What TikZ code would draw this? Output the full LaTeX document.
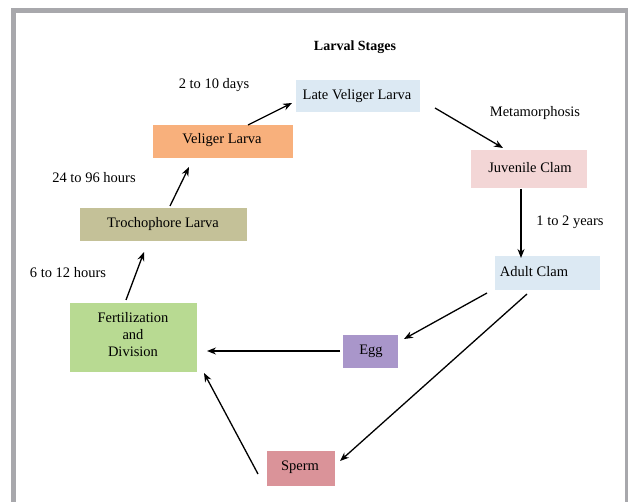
\documentclass[tikz,border=0pt]{standalone}
\usepackage{fontspec}
\setmainfont{Liberation Serif}
\usetikzlibrary{arrows.meta}
\definecolor{framegray}{HTML}{A8A8AC}
\definecolor{lblue}{HTML}{DCE9F3}
\definecolor{orangebox}{HTML}{F8B07C}
\definecolor{pinkbox}{HTML}{F3D6D6}
\definecolor{khaki}{HTML}{C4C198}
\definecolor{greenbox}{HTML}{B8DA92}
\definecolor{purplebox}{HTML}{A996CA}
\definecolor{rosebox}{HTML}{DA9399}
\tikzset{
  stagebox/.style={inner sep=0pt, font=\fontsize{14.5}{17}\selectfont},
  lbl/.style={inner sep=0pt, font=\fontsize{14.5}{17}\selectfont},
  conn/.style={-{Stealth[length=9pt,width=7pt]}, line width=1.3pt, black},
}
\begin{document}
\begin{tikzpicture}[x=1pt,y=-1pt]
\useasboundingbox (0,0) rectangle (628,502);
\fill[white] (0,0) rectangle (628,502);
\draw[framegray, line width=5.5pt] (13.5,520) -- (13.5,10.5) -- (627.5,10.5) -- (627.5,520);
% boxes
\fill[lblue] (296,80) rectangle (420,112);
\node[stagebox] (late) at (357,96) {Late Veliger Larva};
\fill[orangebox] (153,125) rectangle (293,158);
\node[stagebox] (veliger) at (222,140) {Veliger Larva};
\fill[pinkbox] (471,150) rectangle (587,188);
\node[stagebox] (juv) at (530,168) {Juvenile Clam};
\fill[lblue] (495,256) rectangle (600,290);
\node[stagebox] (adult) at (534,272) {Adult Clam};
\fill[khaki] (80,208) rectangle (247,241);
\node[stagebox] (troch) at (163,224) {Trochophore Larva};
\fill[greenbox] (70,303) rectangle (197,372);
\node[stagebox, align=center] (fert) at (133,335) {Fertilization\\and\\Division};
\fill[purplebox] (343,335) rectangle (398,368);
\node[stagebox] (egg) at (371,351) {Egg};
\fill[rosebox] (267,451) rectangle (335,486);
\node[stagebox] (sperm) at (300,467) {Sperm};
% labels
\node[lbl, font=\bfseries\fontsize{14}{17}\selectfont] (title) at (355,47) {Larval Stages};
\node[lbl] (l1) at (214,85) {2 to 10 days};
\node[lbl] (l2) at (535,113) {Metamorphosis};
\node[lbl] (l3) at (94,178) {24 to 96 hours};
\node[lbl] (l4) at (570,222) {1 to 2 years};
\node[lbl] (l5) at (68,273) {6 to 12 hours};
% anchor coordinates
\coordinate (a1) at (248,125); \coordinate (b1) at (292,103);
\coordinate (a2) at (435,108); \coordinate (b2) at (503,148);
\coordinate (a3) at (521,189); \coordinate (b3) at (521,258);
\coordinate (a4) at (170,206); \coordinate (b4) at (189,167);
\coordinate (a5) at (126,300); \coordinate (b5) at (144,252);
\coordinate (a6) at (340,351); \coordinate (b6) at (207,351);
\coordinate (a7) at (487,293); \coordinate (b7) at (404,339);
\coordinate (a8) at (527,294); \coordinate (b8) at (340,461);
\coordinate (a9) at (258,474); \coordinate (b9) at (204,373);
\draw[conn] (a1) -- (b1);
\draw[conn] (a2) -- (b2);
\draw[conn] (a3) -- (b3);
\draw[conn] (a4) -- (b4);
\draw[conn] (a5) -- (b5);
\draw[conn] (a6) -- (b6);
\draw[conn] (a7) -- (b7);
\draw[conn] (a8) -- (b8);
\draw[conn] (a9) -- (b9);
\end{tikzpicture}
\end{document}
